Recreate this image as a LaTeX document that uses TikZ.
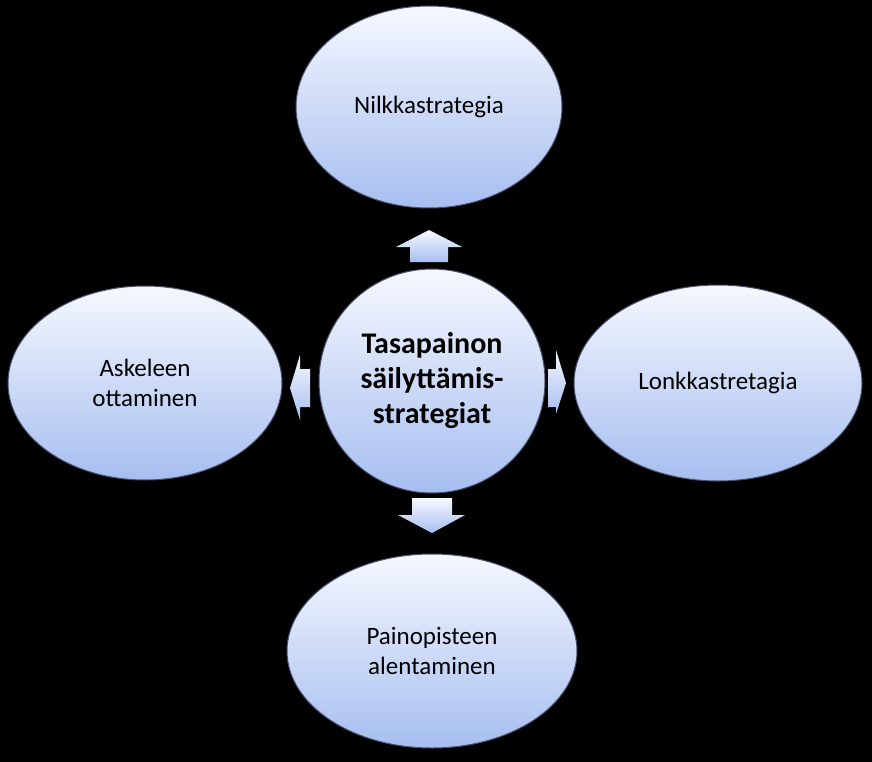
\documentclass[tikz,border=0pt]{standalone}
\usepackage{fontspec}
\setmainfont{Carlito}
\usetikzlibrary{shapes.geometric}
\definecolor{topc}{RGB}{246,248,255}
\definecolor{botc}{RGB}{166,190,240}
\definecolor{edgec}{RGB}{70,80,110}
\begin{document}
\begin{tikzpicture}[x=1pt,y=-1pt,
  ell/.style={ellipse, draw=edgec, line width=1pt, top color=topc, bottom color=botc, align=center, font=\fontsize{25}{30}\selectfont, inner sep=0pt},
  barrow/.style={draw=none, top color=topc, bottom color=botc}]
\fill[black] (0,0) rectangle (872,762);
\node[ell, minimum width=266pt, minimum height=202pt] (top) at (429,107) {Nilkkastrategia};
\node[ell, minimum width=274pt, minimum height=194pt] (left) at (145,383) {Askeleen\\ottaminen};
\node[ell, minimum width=288pt, minimum height=196pt] (right) at (718,383) {Lonkkastretagia};
\node[ell, minimum width=290pt, minimum height=194pt] (bottom) at (432,651) {Painopisteen\\alentaminen};
\node[ell, minimum width=226pt, minimum height=224pt, font=\fontsize{30}{35}\selectfont\bfseries] (c) at (432,381) {Tasapainon\\säilyttämis-\\strategiat};
\fill[barrow] (410,262) -- (448,262) -- (448,247) -- (462,247) -- (429,230) -- (396,247) -- (410,247) -- cycle;
\fill[barrow] (412,498) -- (452,498) -- (452,515) -- (465,515) -- (432,533) -- (398,515) -- (412,515) -- cycle;
\fill[barrow] (310,369) -- (310,407) -- (300,407) -- (300,420) -- (290,388) -- (300,355) -- (300,369) -- cycle;
\fill[barrow] (548,369) -- (548,407) -- (556,407) -- (556,414) -- (566,383) -- (556,350) -- (556,369) -- cycle;
\end{tikzpicture}
\end{document}
